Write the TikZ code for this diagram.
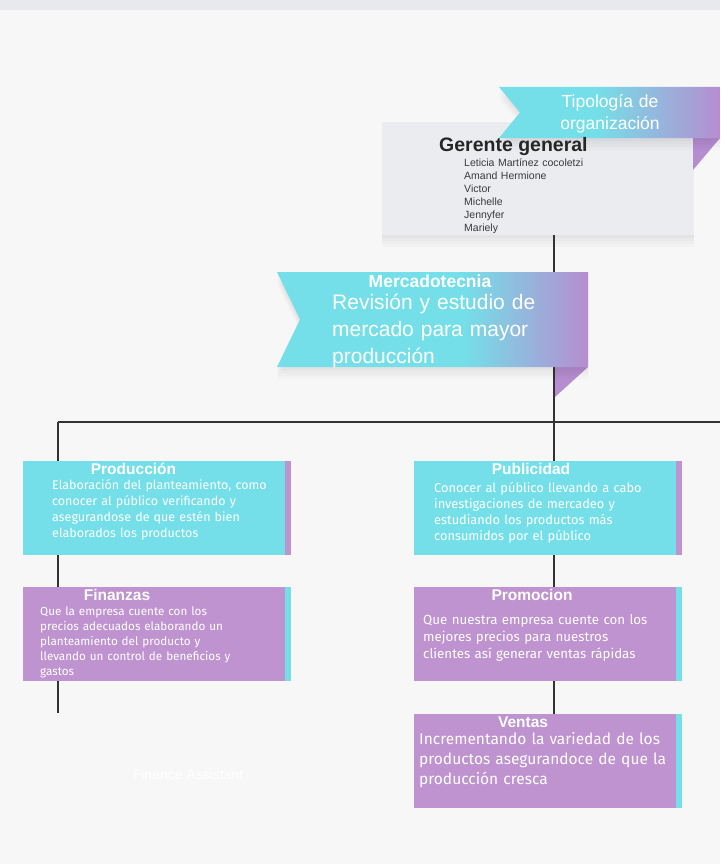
\documentclass[tikz,border=0pt]{standalone}
\usepackage{fontspec}
\setmainfont{Liberation Sans}
\newfontfamily\descfont{Fira Sans}
\usetikzlibrary{positioning,shadows}

\definecolor{pagebg}{HTML}{F7F7F8}
\definecolor{topbar}{HTML}{E8E9ED}
\definecolor{cardgray}{HTML}{EBECF0}
\definecolor{boxcyan}{HTML}{74DFE8}
\definecolor{boxpurple}{HTML}{BE93CF}
\definecolor{foldpurple}{HTML}{B68DD1}
\definecolor{linkgray}{HTML}{333333}
\definecolor{nametext}{HTML}{3A3A3A}

\pgfdeclarehorizontalshading{tiposhade}{100bp}{color(0bp)=(boxcyan); color(47bp)=(boxcyan); color(75bp)=(foldpurple); color(100bp)=(foldpurple)}
\pgfdeclarehorizontalshading{mercshade}{100bp}{color(0bp)=(boxcyan); color(55bp)=(boxcyan); color(75bp)=(foldpurple); color(100bp)=(foldpurple)}

\tikzset{
  link/.style={draw=linkgray, line width=1.4pt},
  softshadow/.style={general shadow={fill=black, opacity=0.025, shadow yshift=-3pt},
                     general shadow={fill=black, opacity=0.02, shadow yshift=-6pt},
                     general shadow={fill=black, opacity=0.02, shadow yshift=-9pt},
                     general shadow={fill=black, opacity=0.015, shadow yshift=-12pt}},
  cardbox/.style={fill=cardgray, minimum width=312pt, minimum height=113pt, inner sep=0pt, softshadow},
  cyanbox/.style={fill=boxcyan, minimum width=268pt, minimum height=94pt, inner sep=0pt,
    path picture={\fill[boxpurple] ([xshift=-6pt]path picture bounding box.north east) rectangle (path picture bounding box.south east);}},
  purplebox/.style={fill=boxpurple, minimum width=268pt, minimum height=94pt, inner sep=0pt,
    path picture={\fill[boxcyan] ([xshift=-6pt]path picture bounding box.north east) rectangle (path picture bounding box.south east);}},
  boxtitle/.style={font=\bfseries\fontsize{15.5}{18}\selectfont, text=white, anchor=base, inner sep=0pt},
  boxdesc/.style={text=white, align=left, anchor=base west, inner sep=0pt, text width=290pt},
}

\begin{document}
\begin{tikzpicture}[x=1pt,y=-1pt]
\useasboundingbox (0,0) rectangle (720,864);
\fill[pagebg] (0,0) rectangle (720,864);
\fill[topbar] (0,0) rectangle (720,10);

% cards
\node[cardbox] (gerente) at (538,178.5) {};
\node[cyanbox] (prod) at (157,508) {};
\node[purplebox] (fin) at (157,634) {};
\node[cyanbox] (pub) at (548,508) {};
\node[purplebox] (promo) at (548,634) {};
\node[purplebox] (ventas) at (548,761) {};

% connectors
\coordinate (hub) at (554,422);
\coordinate (lefthub) at (58,422);
\coordinate (rightend) at (720,422);
\coordinate (finend) at (58,713);
\draw[link] (gerente.south -| hub) -- (hub);
\draw[link] (lefthub) -- (rightend);
\draw[link] (lefthub) -- (lefthub |- prod.north);
\draw[link] (prod.south -| lefthub) -- (lefthub |- fin.north);
\draw[link] (fin.south -| lefthub) -- (finend);
\draw[link] (hub) -- (hub |- pub.north);
\draw[link] (pub.south -| hub) -- (hub |- promo.north);
\draw[link] (promo.south -| hub) -- (hub |- ventas.north);

% ribbons
\fill[foldpurple] (693,138) -- (720,138) -- (693,170) -- cycle;
\shade[shading=tiposhade, softshadow] (499,87) -- (720,87) -- (720,138) -- (499,138) -- (520,112.5) -- cycle;
\node[text=white, align=center, text width=140pt, inner sep=0pt, font=\fontsize{17.5}{22}\selectfont, anchor=base] (tipo) at (610,107.5) {Tipología de\\organización};

\fill[foldpurple] (555,367) -- (588,367) -- (555,397) -- cycle;
\shade[shading=mercshade, softshadow] (277,272) -- (588,272) -- (588,367) -- (277,367) -- (300,319.5) -- cycle;
\node[boxtitle, font=\bfseries\fontsize{17.5}{19}\selectfont] (merctitle) at (430,287.5) {Mercadotecnia};
\node[boxdesc, font=\fontsize{21}{27}\selectfont] (mercdesc) at (332,309.5) {Revisión y estudio de\\mercado para mayor\\producción};

% gerente text
\node[anchor=base west, inner sep=0pt, text=black!85, font=\bfseries\fontsize{19.5}{22}\selectfont] (gertitle) at (439,151) {Gerente general};
\node[boxdesc, text=nametext, font=\fontsize{10.5}{13}\selectfont] (names) at (464,166.5)
  {Leticia Martínez cocoletzi\\Amand Hermione\\Victor\\Michelle\\Jennyfer\\Mariely};

% box texts
\node[boxtitle] (prodtitle) at (133.5,474.5) {Producción};
\node[boxdesc, font=\descfont\fontsize{12.5}{16}\selectfont] (proddesc) at (52,489.5)
  {Elaboración del planteamiento, como\\conocer al público verificando y\\asegurandose de que estén bien\\elaborados los productos};
\node[boxtitle] (fintitle) at (117,600.5) {Finanzas};
\node[boxdesc, font=\descfont\fontsize{11.7}{15}\selectfont] (findesc) at (40,615)
  {Que la empresa cuente con los\\precios adecuados elaborando un\\planteamiento del producto y\\llevando un control de beneficios y\\gastos};
\node[boxtitle] (pubtitle) at (531,474.5) {Publicidad};
\node[boxdesc, font=\descfont\fontsize{12.8}{16}\selectfont] (pubdesc) at (434,492.5)
  {Conocer al público llevando a cabo\\investigaciones de mercadeo y\\estudiando los productos más\\consumidos por el público};
\node[boxtitle] (promotitle) at (532,600.5) {Promocion};
\node[boxdesc, font=\descfont\fontsize{13.3}{17}\selectfont] (promodesc) at (423,624.5)
  {Que nuestra empresa cuente con los\\mejores precios para nuestros\\clientes así generar ventas rápidas};
\node[boxtitle] (ventastitle) at (523,727.5) {Ventas};
\node[boxdesc, font=\descfont\fontsize{15.5}{20}\selectfont] (ventasdesc) at (419,744)
  {Incrementando la variedad de los\\productos asegurandoce de que la\\producción cresca};

\node[text=white, anchor=base, font=\fontsize{14}{16}\selectfont] (assist) at (188,779) {Finance Assistant};
\end{tikzpicture}
\end{document}
